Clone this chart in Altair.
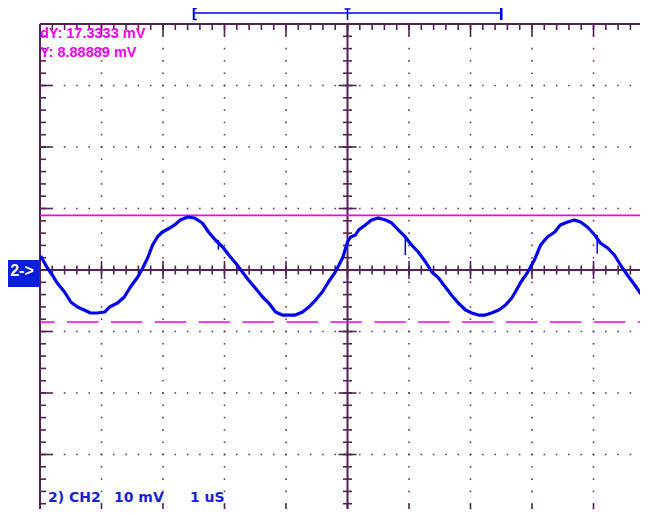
import altair as alt
import pandas as pd
import numpy as np

# ---- CH2 trace: time in us (0 = trigger, centre), voltage in mV
time_us = [-4.99, -4.88, -4.80, -4.72, -4.60, -4.50, -4.39, -4.28, -4.18, -4.07, -3.95, -3.87, -3.74,
           -3.63, -3.53, -3.41, -3.33, -3.25, -3.17, -3.09, -3.01, -2.89, -2.81, -2.72, -2.60, -2.49,
           -2.36, -2.26, -2.15, -2.03, -1.93, -1.82, -1.71, -1.61, -1.50, -1.38, -1.28, -1.17, -1.06,
           -0.96, -0.85, -0.73, -0.63, -0.52, -0.41, -0.31, -0.20, -0.08, 0.00, 0.05, 0.13,
           0.18, 0.29, 0.39, 0.50, 0.62, 0.72, 0.83, 0.94, 1.04, 1.15, 1.27, 1.37, 1.48, 1.59, 1.69,
           1.80, 1.92, 2.02, 2.13, 2.24, 2.34, 2.46, 2.57, 2.67,
           2.72, 2.81, 2.93, 3.04, 3.14, 3.25, 3.37, 3.46, 3.58, 3.69, 3.79, 3.90, 4.02, 4.11, 4.23,
           4.34, 4.44, 4.55, 4.67, 4.76, 4.88]
ch2_mV = [2.28, 0.33, -0.81, -2.11, -3.58, -5.20, -6.02, -6.50, -6.99, -6.99, -6.83, -6.02, -5.37,
          -4.39, -2.76, -1.14, 0.33, 1.95, 4.07, 5.37, 6.18, 6.83, 7.32, 8.13, 8.62, 8.46,
          7.64, 6.18, 4.88, 3.74, 2.44, 1.14, -0.33, -1.63, -2.93, -4.39, -5.37, -6.83, -7.32,
          -7.32, -7.32, -6.83, -6.02, -4.88, -3.58, -1.95, -0.33, 1.95, 4.55, 5.37, 5.69,
          6.50, 7.32, 8.13, 8.46, 8.13, 7.64, 6.50, 5.37, 4.07, 2.93, 1.30, -0.33, -1.30, -2.76, -4.07,
          -5.37, -6.50, -6.99, -7.32, -7.32, -6.99, -6.50, -5.69, -4.55,
          -3.74, -2.11, -0.33, 1.63, 4.07, 5.37, 6.18, 7.32, 7.80, 8.13, 7.80, 6.99, 5.69, 4.39, 3.58,
          2.44, 0.81, -0.81, -2.44, -3.74, -4.88]
assert len(time_us) == len(ch2_mV)

# noise spikes visible on the trace
spike_t = [-2.10, 0.94, 4.06]
spike_hi = [4.9, 5.4, 5.7]
spike_lo = [3.3, 2.4, 2.7]

# cursors
cursor_Y = 8.88889
cursor_dY = 17.3333

# readouts
readout_lines = ["dY: 17.3333 mV", "Y: 8.88889 mV"]
status_texts = ["2) CH2", "10 mV", "1 uS"]
channel_marker = "2->"
time_window = [-2.5, 2.5]

# screen: 10 mV/div, 1 us/div; the window cuts the right and bottom edges
X_DOMAIN = [-5.0, 4.756]
Y_DOMAIN = [-38.86, 40.0]
x_minor = [round(v, 2) for v in np.arange(-5.0, 4.9, 0.2)]
x_major = list(range(-4, 5))
y_minor = [round(v, 1) for v in np.arange(-40.0, 40.1, 2.0)]
y_major = list(range(-30, 40, 10))

FRAME = "#542254"
BLUE = "#0000f0"
MAGENTA = "#f000f0"

xs = alt.Scale(domain=X_DOMAIN, nice=False, zero=False)
ys = alt.Scale(domain=Y_DOMAIN, nice=False, zero=False)


def X(f):
    return alt.X(f, type="quantitative", scale=xs, axis=None)


def Y(f):
    return alt.Y(f, type="quantitative", scale=ys, axis=None)


def XD(v):
    return alt.XDatum(v, type="quantitative", scale=xs, axis=None)


def YD(v):
    return alt.YDatum(v, type="quantitative", scale=ys, axis=None)


def X2D(v):
    return alt.X2Datum(v)


def Y2D(v):
    return alt.Y2Datum(v)


ONE = alt.Data(values=[{}])
layers = []

# grid dots
dots_v = pd.DataFrame([(x, y) for x in x_major if x != 0 for y in y_minor], columns=["x", "y"])
dots_h = pd.DataFrame([(x, y) for y in y_major if y != 0 for x in x_minor], columns=["x", "y"])
dots = pd.concat([dots_v, dots_h])
layers.append(alt.Chart(dots).mark_square(size=2.5, color=FRAME, opacity=0.9).encode(x=X("x"), y=Y("y")))

# frame (left, top, bottom) and centre axes
layers.append(alt.Chart(ONE).mark_rule(color=FRAME, strokeWidth=2).encode(x=XD(-5.0)))
layers.append(alt.Chart(ONE).mark_rule(color=FRAME, strokeWidth=2).encode(y=YD(40.0)))
layers.append(alt.Chart(ONE).mark_rule(color=FRAME, strokeWidth=2).encode(y=YD(-40.0)))
layers.append(alt.Chart(ONE).mark_rule(color=FRAME, strokeWidth=2).encode(x=XD(0.0)))
layers.append(alt.Chart(ONE).mark_rule(color=FRAME, strokeWidth=2).encode(y=YD(0.0)))

xmin_df = pd.DataFrame({"x": x_minor})
xmaj_df = pd.DataFrame({"x": [v for v in x_major]})
ymin_df = pd.DataFrame({"y": y_minor})
ymaj_df = pd.DataFrame({"y": y_major})

# top edge ticks (down)
layers.append(alt.Chart(xmin_df).mark_rule(color=FRAME, strokeWidth=1.6, y2Offset=6).encode(x=X("x"), y=YD(40.0), y2=Y2D(40.0)))
layers.append(alt.Chart(xmaj_df).mark_rule(color=FRAME, strokeWidth=1.6, y2Offset=12).encode(x=X("x"), y=YD(40.0), y2=Y2D(40.0)))
# bottom edge ticks (up)
layers.append(alt.Chart(xmin_df).mark_rule(color=FRAME, strokeWidth=1.6, y2Offset=-6).encode(x=X("x"), y=YD(-40.0), y2=Y2D(-40.0)))
layers.append(alt.Chart(xmaj_df).mark_rule(color=FRAME, strokeWidth=1.6, y2Offset=-12).encode(x=X("x"), y=YD(-40.0), y2=Y2D(-40.0)))
# left edge ticks (right)
layers.append(alt.Chart(ymin_df).mark_rule(color=FRAME, strokeWidth=1.6, x2Offset=6).encode(y=Y("y"), x=XD(-5.0), x2=X2D(-5.0)))
layers.append(alt.Chart(ymaj_df).mark_rule(color=FRAME, strokeWidth=1.6, x2Offset=12).encode(y=Y("y"), x=XD(-5.0), x2=X2D(-5.0)))
# centre horizontal axis ticks
layers.append(alt.Chart(xmin_df).mark_rule(color=FRAME, strokeWidth=1.6, yOffset=-4.5, y2Offset=4.5).encode(x=X("x"), y=YD(0.0), y2=Y2D(0.0)))
layers.append(alt.Chart(xmaj_df).mark_rule(color=FRAME, strokeWidth=1.6, yOffset=-9, y2Offset=9).encode(x=X("x"), y=YD(0.0), y2=Y2D(0.0)))
# centre vertical axis ticks
layers.append(alt.Chart(ymin_df).mark_rule(color=FRAME, strokeWidth=1.6, xOffset=-4.5, x2Offset=4.5).encode(y=Y("y"), x=XD(0.0), x2=X2D(0.0)))
layers.append(alt.Chart(ymaj_df).mark_rule(color=FRAME, strokeWidth=1.6, xOffset=-9, x2Offset=9).encode(y=Y("y"), x=XD(0.0), x2=X2D(0.0)))

# cursors
layers.append(alt.Chart(ONE).mark_rule(color=MAGENTA, strokeWidth=1.6).encode(y=YD(cursor_Y)))
layers.append(alt.Chart(ONE).mark_rule(color=MAGENTA, strokeWidth=1.6, strokeDash=[31.5, 12.4], strokeDashOffset=16.9)
              .encode(x=XD(X_DOMAIN[0]), x2=X2D(X_DOMAIN[1]), y=YD(round(cursor_Y - cursor_dY, 5))))

# trace
trace = pd.DataFrame({"t": time_us, "v": ch2_mV})
layers.append(alt.Chart(trace).mark_line(color=BLUE, strokeWidth=3.2, strokeJoin="round").encode(x=X("t"), y=Y("v"), order="t:Q"))
spikes = pd.DataFrame({"t": spike_t, "hi": spike_hi, "lo": spike_lo})
layers.append(alt.Chart(spikes).mark_rule(color=BLUE, strokeWidth=1.5).encode(x=X("t"), y=Y("hi"), y2=alt.Y2("lo")))

# time-window bracket above the screen
tw0, tw1 = time_window
layers.append(alt.Chart(ONE).mark_rule(color=BLUE, strokeWidth=1.6, yOffset=-11, y2Offset=-11)
              .encode(x=XD(tw0), x2=X2D(tw1), y=YD(40.0), y2=Y2D(40.0)))
layers.append(alt.Chart(ONE).mark_rule(color=BLUE, strokeWidth=2, yOffset=-16, y2Offset=-4)
              .encode(x=XD(tw0), y=YD(40.0), y2=Y2D(40.0)))
for yo in (-15.5, -4.5):
    layers.append(alt.Chart(ONE).mark_rule(color=BLUE, strokeWidth=1.5, x2Offset=3, yOffset=yo, y2Offset=yo)
                  .encode(x=XD(tw0), x2=X2D(tw0), y=YD(40.0), y2=Y2D(40.0)))
layers.append(alt.Chart(ONE).mark_rule(color=BLUE, strokeWidth=2.5, yOffset=-16, y2Offset=-4)
              .encode(x=XD(tw1), y=YD(40.0), y2=Y2D(40.0)))
layers.append(alt.Chart(ONE).mark_rule(color=BLUE, strokeWidth=1.6, yOffset=-15.5, y2Offset=-4)
              .encode(x=XD(0.0), y=YD(40.0), y2=Y2D(40.0)))
layers.append(alt.Chart(ONE).mark_rule(color=BLUE, strokeWidth=1.5, xOffset=-3, x2Offset=3, yOffset=-15, y2Offset=-15)
              .encode(x=XD(0.0), x2=X2D(0.0), y=YD(40.0), y2=Y2D(40.0)))

# cursor readouts
for txt, dy in zip(readout_lines, [14.3, 32.7]):
    layers.append(alt.Chart(ONE).mark_text(text=txt, font="Liberation Sans", fontWeight="bold", fontSize=14.5,
                                           color=MAGENTA, align="left", baseline="alphabetic", dy=dy)
                  .encode(x=XD(-5.0), y=YD(40.0)))

# status line
for txt, dx in zip(status_texts, [8, 74, 150]):
    layers.append(alt.Chart(ONE).mark_text(text=txt, font="DejaVu Sans", fontWeight="bold", fontSize=14,
                                           color="#1a22d8", align="left", baseline="alphabetic", dx=dx, dy=-14.3)
                  .encode(x=XD(-5.0), y=YD(-40.0)))

# channel marker
layers.append(alt.Chart(ONE).mark_rect(color="#0a1ee0", xOffset=-32, x2Offset=-1, yOffset=-10, y2Offset=17)
              .encode(x=XD(-5.0), x2=X2D(-5.0), y=YD(0.0), y2=Y2D(0.0)))
layers.append(alt.Chart(ONE).mark_text(text=channel_marker, font="Liberation Sans", fontWeight="bold", fontSize=16,
                                       color="white", align="center", baseline="alphabetic", dx=-18, dy=6)
              .encode(x=XD(-5.0), y=YD(0.0)))

chart = (
    alt.layer(*layers)
    .properties(width=600, height=485, autosize="none",
                padding={"left": 32, "top": 16, "right": 0, "bottom": 0}, background="white")
    .configure_view(stroke=None)
)

chart.save("out.html", embed_options={"renderer": "svg", "actions": False})
